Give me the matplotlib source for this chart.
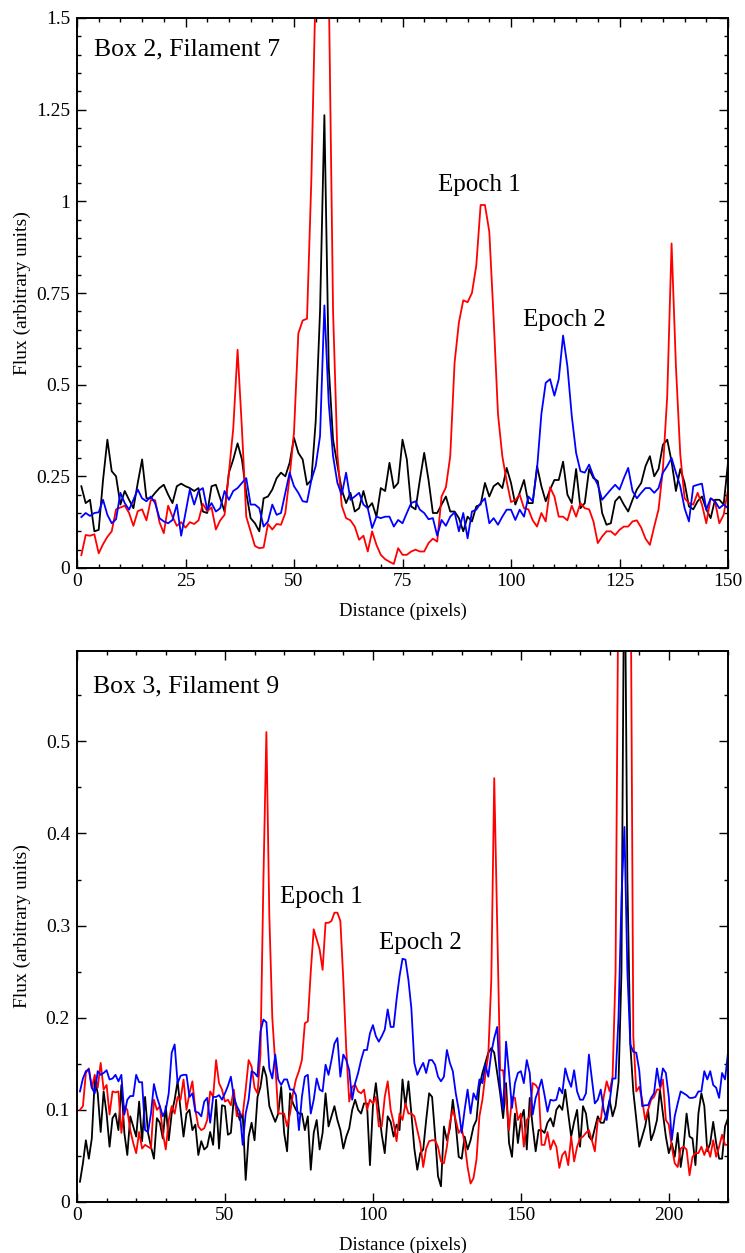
import numpy as np
import matplotlib
matplotlib.use("Agg")
import matplotlib.pyplot as plt
from matplotlib.ticker import MultipleLocator, FuncFormatter

plt.rcParams['font.family'] = ['Liberation Serif', 'DejaVu Serif']
plt.rcParams['mathtext.fontset'] = 'stix'

# ---------------- Data: Box 2, Filament 7 ----------------
x_top = np.arange(1, 151)
top_red = [0.035, 0.09, 0.088, 0.092, 0.04, 0.065, 0.085, 0.10, 0.16, 0.165,
           0.17, 0.15, 0.115, 0.155, 0.16, 0.13, 0.185, 0.185, 0.125, 0.095,
           0.17, 0.14, 0.115, 0.125, 0.11, 0.125, 0.12, 0.13, 0.175, 0.155,
           0.165, 0.105, 0.13, 0.145, 0.26, 0.38, 0.595, 0.38, 0.14, 0.10,
           0.06, 0.054, 0.056, 0.12, 0.105, 0.12, 0.118, 0.15, 0.25, 0.37,
           0.64, 0.675, 0.68, 1.06, 1.6, 2.0, 2.0, 1.6, 0.7, 0.31,
           0.17, 0.136, 0.13, 0.113, 0.077, 0.088, 0.045, 0.10, 0.063, 0.036,
           0.024, 0.017, 0.011, 0.054, 0.036, 0.036, 0.045, 0.05, 0.045, 0.045,
           0.068, 0.08, 0.072, 0.195, 0.22, 0.305, 0.56, 0.67, 0.73, 0.725,
           0.75, 0.825, 0.99, 0.99, 0.917, 0.68, 0.42, 0.305, 0.237, 0.18,
           0.185, 0.2, 0.163, 0.16, 0.13, 0.113, 0.15, 0.127, 0.22, 0.195,
           0.14, 0.14, 0.13, 0.17, 0.14, 0.177, 0.163, 0.16, 0.127, 0.068,
           0.086, 0.10, 0.10, 0.09, 0.104, 0.113, 0.113, 0.127, 0.13, 0.11,
           0.08, 0.063, 0.113, 0.16, 0.27, 0.47, 0.885, 0.55, 0.31, 0.19,
           0.177, 0.173, 0.205, 0.173, 0.122, 0.19, 0.182, 0.122, 0.145, 0.214]
top_black = [0.223, 0.177, 0.186, 0.10, 0.104, 0.24, 0.35, 0.264, 0.25, 0.173,
             0.21, 0.186, 0.163, 0.232, 0.296, 0.19, 0.19, 0.205, 0.218, 0.227,
             0.20, 0.177, 0.223, 0.23, 0.223, 0.218, 0.21, 0.218, 0.154, 0.15,
             0.223, 0.227, 0.19, 0.154, 0.26, 0.296, 0.34, 0.296, 0.205, 0.136,
             0.122, 0.10, 0.19, 0.195, 0.214, 0.245, 0.26, 0.25, 0.287, 0.355,
             0.314, 0.296, 0.227, 0.24, 0.40, 0.70, 1.235, 0.55, 0.35, 0.28,
             0.214, 0.177, 0.205, 0.154, 0.163, 0.21, 0.163, 0.177, 0.14, 0.218,
             0.21, 0.287, 0.218, 0.232, 0.35, 0.296, 0.168, 0.16, 0.24, 0.314,
             0.24, 0.15, 0.15, 0.173, 0.195, 0.154, 0.154, 0.136, 0.10, 0.14,
             0.127, 0.168, 0.173, 0.232, 0.195, 0.223, 0.232, 0.218, 0.273, 0.232,
             0.173, 0.205, 0.24, 0.177, 0.177, 0.278, 0.223, 0.182, 0.214, 0.24,
             0.24, 0.29, 0.20, 0.177, 0.27, 0.163, 0.177, 0.27, 0.245, 0.237,
             0.15, 0.118, 0.122, 0.182, 0.195, 0.173, 0.154, 0.186, 0.214, 0.232,
             0.278, 0.305, 0.25, 0.27, 0.336, 0.35, 0.29, 0.21, 0.27, 0.232,
             0.168, 0.16, 0.182, 0.195, 0.16, 0.136, 0.186, 0.186, 0.173, 0.287]
top_blue = [0.139, 0.15, 0.142, 0.15, 0.152, 0.186, 0.145, 0.122, 0.133, 0.205,
            0.177, 0.159, 0.186, 0.214, 0.19, 0.182, 0.195, 0.177, 0.136, 0.127,
            0.122, 0.131, 0.173, 0.088, 0.15, 0.214, 0.173, 0.21, 0.218, 0.159,
            0.177, 0.154, 0.163, 0.21, 0.186, 0.21, 0.218, 0.232, 0.245, 0.173,
            0.173, 0.163, 0.113, 0.127, 0.173, 0.145, 0.15, 0.205, 0.26, 0.223,
            0.205, 0.182, 0.18, 0.24, 0.278, 0.36, 0.716, 0.45, 0.305, 0.232,
            0.20, 0.26, 0.186, 0.195, 0.205, 0.173, 0.163, 0.109, 0.14, 0.136,
            0.14, 0.14, 0.113, 0.131, 0.122, 0.15, 0.177, 0.182, 0.159, 0.15,
            0.133, 0.136, 0.088, 0.131, 0.115, 0.14, 0.152, 0.10, 0.15, 0.081,
            0.154, 0.159, 0.177, 0.19, 0.122, 0.136, 0.118, 0.14, 0.159, 0.159,
            0.131, 0.159, 0.14, 0.195, 0.182, 0.27, 0.42, 0.505, 0.515, 0.47,
            0.515, 0.634, 0.55, 0.415, 0.314, 0.264, 0.26, 0.282, 0.25, 0.227,
            0.186, 0.20, 0.214, 0.227, 0.214, 0.245, 0.273, 0.21, 0.19, 0.205,
            0.218, 0.218, 0.205, 0.218, 0.26, 0.278, 0.30, 0.26, 0.223, 0.163,
            0.127, 0.223, 0.227, 0.23, 0.159, 0.19, 0.182, 0.163, 0.173, 0.163]

# ---------------- Data: Box 3, Filament 9 ----------------
x_bot = np.arange(1, 221)
bot_red = [0.10, 0.104, 0.14, 0.145, 0.124, 0.138, 0.124, 0.151, 0.122, 0.127,
           0.095, 0.12, 0.119, 0.12, 0.075, 0.104, 0.10, 0.078, 0.064, 0.053,
           0.076, 0.058, 0.062, 0.06, 0.058, 0.111, 0.10, 0.104, 0.075, 0.057,
           0.089, 0.104, 0.096, 0.114, 0.111, 0.133, 0.10, 0.118, 0.131, 0.10,
           0.082, 0.078, 0.08, 0.089, 0.12, 0.114, 0.154, 0.129, 0.122, 0.109,
           0.111, 0.105, 0.122, 0.093, 0.095, 0.095, 0.122, 0.154, 0.147, 0.124,
           0.118, 0.16, 0.35, 0.51, 0.31, 0.20, 0.15, 0.096, 0.096, 0.096,
           0.082, 0.096, 0.118, 0.133, 0.142, 0.154, 0.194, 0.196, 0.25, 0.296,
           0.285, 0.274, 0.252, 0.303, 0.303, 0.305, 0.314, 0.314, 0.305, 0.241,
           0.165, 0.109, 0.125, 0.127, 0.12, 0.118, 0.122, 0.10, 0.111, 0.107,
           0.114, 0.082, 0.082, 0.114, 0.131, 0.10, 0.086, 0.066, 0.096, 0.089,
           0.107, 0.096, 0.096, 0.093, 0.078, 0.064, 0.038, 0.058, 0.066, 0.067,
           0.067, 0.06, 0.044, 0.042, 0.06, 0.086, 0.10, 0.089, 0.075, 0.08,
           0.064, 0.038, 0.02, 0.026, 0.046, 0.093, 0.111, 0.138, 0.16, 0.24,
           0.46, 0.30, 0.143, 0.143, 0.111, 0.078, 0.114, 0.113, 0.089, 0.096,
           0.06, 0.089, 0.093, 0.129, 0.127, 0.122, 0.062, 0.062, 0.076, 0.057,
           0.067, 0.06, 0.037, 0.051, 0.055, 0.04, 0.071, 0.044, 0.06, 0.069,
           0.071, 0.075, 0.078, 0.067, 0.055, 0.089, 0.089, 0.114, 0.131, 0.12,
           0.136, 0.25, 0.70, 0.90, 1.00, 0.90, 0.75, 0.18, 0.12, 0.125,
           0.111, 0.089, 0.10, 0.111, 0.114, 0.122, 0.122, 0.133, 0.089, 0.084,
           0.06, 0.042, 0.038, 0.058, 0.06, 0.057, 0.029, 0.049, 0.053, 0.053,
           0.06, 0.051, 0.06, 0.049, 0.067, 0.049, 0.06, 0.073, 0.062, 0.062]
bot_blue = [0.12, 0.134, 0.142, 0.144, 0.124, 0.118, 0.142, 0.138, 0.14, 0.143,
            0.133, 0.134, 0.138, 0.131, 0.138, 0.095, 0.111, 0.115, 0.115, 0.138,
            0.13, 0.13, 0.078, 0.076, 0.096, 0.128, 0.114, 0.104, 0.093, 0.10,
            0.118, 0.162, 0.171, 0.129, 0.137, 0.138, 0.138, 0.114, 0.118, 0.098,
            0.097, 0.093, 0.109, 0.113, 0.086, 0.114, 0.114, 0.116, 0.111, 0.118,
            0.126, 0.136, 0.114, 0.104, 0.098, 0.062, 0.096, 0.111, 0.142, 0.14,
            0.136, 0.185, 0.198, 0.195, 0.145, 0.134, 0.16, 0.133, 0.127, 0.133,
            0.133, 0.122, 0.122, 0.116, 0.078, 0.114, 0.136, 0.138, 0.096, 0.111,
            0.134, 0.122, 0.12, 0.149, 0.138, 0.154, 0.172, 0.178, 0.136, 0.16,
            0.154, 0.143, 0.111, 0.129, 0.14, 0.154, 0.165, 0.165, 0.183, 0.192,
            0.18, 0.174, 0.18, 0.187, 0.209, 0.19, 0.19, 0.22, 0.245, 0.264,
            0.263, 0.241, 0.21, 0.151, 0.138, 0.145, 0.151, 0.14, 0.154, 0.154,
            0.149, 0.136, 0.131, 0.136, 0.165, 0.151, 0.142, 0.118, 0.10, 0.075,
            0.10, 0.122, 0.096, 0.118, 0.111, 0.133, 0.129, 0.149, 0.136, 0.162,
            0.178, 0.19, 0.125, 0.10, 0.174, 0.14, 0.102, 0.129, 0.14, 0.142,
            0.129, 0.154, 0.14, 0.095, 0.113, 0.122, 0.133, 0.116, 0.098, 0.111,
            0.11, 0.111, 0.124, 0.118, 0.145, 0.133, 0.125, 0.143, 0.12, 0.111,
            0.111, 0.118, 0.16, 0.133, 0.107, 0.111, 0.122, 0.10, 0.089, 0.109,
            0.134, 0.134, 0.20, 0.33, 0.407, 0.25, 0.171, 0.163, 0.162, 0.143,
            0.104, 0.105, 0.105, 0.113, 0.118, 0.145, 0.125, 0.145, 0.14, 0.114,
            0.067, 0.093, 0.107, 0.12, 0.118, 0.116, 0.113, 0.113, 0.114, 0.12,
            0.12, 0.142, 0.133, 0.142, 0.127, 0.124, 0.113, 0.14, 0.133, 0.162]
bot_black = [0.022, 0.042, 0.067, 0.047, 0.069, 0.133, 0.118, 0.076, 0.12, 0.096,
             0.06, 0.091, 0.096, 0.078, 0.127, 0.075, 0.051, 0.093, 0.082, 0.071,
             0.109, 0.066, 0.114, 0.075, 0.06, 0.047, 0.091, 0.086, 0.069, 0.104,
             0.067, 0.096, 0.111, 0.131, 0.10, 0.071, 0.096, 0.10, 0.078, 0.084,
             0.051, 0.066, 0.057, 0.06, 0.076, 0.062, 0.111, 0.058, 0.105, 0.104,
             0.073, 0.075, 0.113, 0.10, 0.089, 0.096, 0.024, 0.071, 0.086, 0.067,
             0.114, 0.125, 0.147, 0.136, 0.104, 0.095, 0.087, 0.096, 0.125, 0.075,
             0.055, 0.118, 0.107, 0.10, 0.096, 0.096, 0.078, 0.093, 0.035, 0.075,
             0.089, 0.057, 0.075, 0.118, 0.082, 0.093, 0.104, 0.089, 0.078, 0.058,
             0.071, 0.08, 0.10, 0.111, 0.10, 0.096, 0.107, 0.107, 0.04, 0.104,
             0.129, 0.10, 0.073, 0.053, 0.093, 0.087, 0.071, 0.084, 0.078, 0.133,
             0.104, 0.131, 0.096, 0.058, 0.035, 0.053, 0.057, 0.089, 0.118, 0.114,
             0.073, 0.028, 0.017, 0.082, 0.067, 0.08, 0.111, 0.084, 0.049, 0.047,
             0.071, 0.057, 0.067, 0.082, 0.089, 0.125, 0.14, 0.151, 0.162, 0.167,
             0.162, 0.14, 0.118, 0.091, 0.129, 0.064, 0.049, 0.096, 0.064, 0.089,
             0.10, 0.057, 0.113, 0.082, 0.055, 0.078, 0.078, 0.075, 0.086, 0.091,
             0.082, 0.10, 0.105, 0.10, 0.122, 0.096, 0.071, 0.087, 0.10, 0.06,
             0.104, 0.096, 0.071, 0.067, 0.08, 0.093, 0.086, 0.086, 0.096, 0.111,
             0.093, 0.104, 0.13, 0.25, 0.75, 0.35, 0.17, 0.12, 0.09, 0.06,
             0.071, 0.082, 0.10, 0.067, 0.076, 0.089, 0.122, 0.096, 0.071, 0.053,
             0.064, 0.049, 0.075, 0.038, 0.06, 0.096, 0.071, 0.069, 0.04, 0.096,
             0.118, 0.104, 0.055, 0.064, 0.087, 0.064, 0.047, 0.047, 0.082, 0.091]

fig = plt.figure(figsize=(7.45, 12.53), dpi=100)
ax1 = fig.add_axes([77/745, 1 - 568/1253, 651/745, 550/1253])
ax2 = fig.add_axes([77/745, 1 - 1202/1253, 651/745, 551/1253])

lw = 1.3
fmt = FuncFormatter(lambda v, p: '%g' % round(v, 4))


def style(ax, xmaj, xmin, ymaj, ymin):
    ax.xaxis.set_major_locator(MultipleLocator(xmaj))
    ax.xaxis.set_minor_locator(MultipleLocator(xmin))
    ax.yaxis.set_major_locator(MultipleLocator(ymaj))
    ax.yaxis.set_minor_locator(MultipleLocator(ymin))
    ax.yaxis.set_major_formatter(fmt)
    ax.tick_params(which='both', direction='in', top=True, right=True,
                   width=1.0, labelsize=14)
    ax.tick_params(which='major', length=6.5)
    ax.tick_params(which='minor', length=3.2)
    ax.tick_params(axis='x', pad=3.5)
    ax.tick_params(axis='y', pad=5)
    for s in ax.spines.values():
        s.set_linewidth(1.4)
    ax.set_xlabel('Distance (pixels)', fontsize=13.5, va='center')
    ax.xaxis.set_label_coords(0.5, -0.078)
    ax.set_ylabel('Flux (arbitrary units)', fontsize=14, va='center')
    ax.yaxis.set_label_coords(-0.0845, 0.5)


# top panel
ax1.plot(x_top, top_black, color='black', lw=lw)
ax1.plot(x_top, top_red, color='#ff0000', lw=lw)
ax1.plot(x_top, top_blue, color='#0000ff', lw=lw)
ax1.set_xlim(0, 150)
ax1.set_ylim(0, 1.5)
style(ax1, 25, 5, 0.25, 0.05)
ax1.text(0.026, 0.942, 'Box 2, Filament 7', transform=ax1.transAxes,
         fontsize=18.5, ha='left', va='center')
ax1.text(0.6175, 0.696, 'Epoch 1', transform=ax1.transAxes,
         fontsize=18, ha='center', va='center')
ax1.text(0.748, 0.451, 'Epoch 2', transform=ax1.transAxes,
         fontsize=18, ha='center', va='center')

# bottom panel
ax2.plot(x_bot, bot_black, color='black', lw=lw)
ax2.plot(x_bot, bot_red, color='#ff0000', lw=lw)
ax2.plot(x_bot, bot_blue, color='#0000ff', lw=lw)
ax2.set_xlim(0, 220)
ax2.set_ylim(0, 0.598)
style(ax2, 50, 10, 0.1, 0.05)
ax2.text(0.024, 0.935, 'Box 3, Filament 9', transform=ax2.transAxes,
         fontsize=18.5, ha='left', va='center')
ax2.text(0.375, 0.554, 'Epoch 1', transform=ax2.transAxes,
         fontsize=18, ha='center', va='center')
ax2.text(0.527, 0.470, 'Epoch 2', transform=ax2.transAxes,
         fontsize=18, ha='center', va='center')

fig.savefig('out.png', dpi=100)
